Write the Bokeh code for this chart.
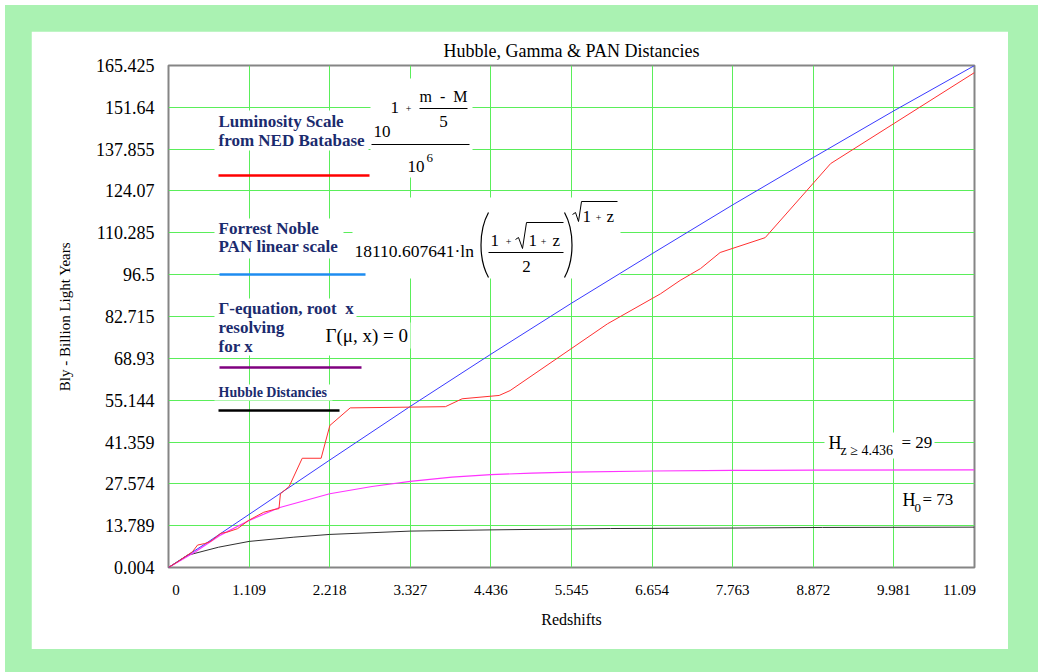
from bokeh.plotting import figure
from bokeh.models import Range1d, FixedTicker, Label, BoxAnnotation
from bokeh.layouts import column
from bokeh.embed import file_html
from bokeh.resources import INLINE

# ---- axis ticks -------------------------------------------------------------
x_ticks = [0, 1.109, 2.218, 3.327, 4.436, 5.545, 6.654, 7.763, 8.872, 9.981, 11.09]
x_tick_labels = ["0", "1.109", "2.218", "3.327", "4.436", "5.545", "6.654",
                 "7.763", "8.872", "9.981", "11.09"]
y_ticks = [0.004, 13.789, 27.574, 41.359, 55.144, 68.93, 82.715, 96.5,
           110.285, 124.07, 137.855, 151.64, 165.425]
y_tick_labels = ["0.004", "13.789", "27.574", "41.359", "55.144", "68.93", "82.715",
                 "96.5", "110.285", "124.07", "137.855", "151.64", "165.425"]

# ---- PAN linear scale (Forrest Noble), Bly vs redshift ----------------------
pan_z = [0, 0.5, 1.109, 2.218, 3.327, 4.436, 5.545, 6.654, 7.763, 8.872, 9.981, 11.09]
pan_d = [0, 7.7, 17.5, 35.4, 53.1, 70.3, 87.1, 103.4, 119.5, 135.1, 150.5, 165.4]

# ---- luminosity distances from the NED database ------------------------------
lum_z = [0, 0.12, 0.25, 0.33, 0.40, 0.50, 0.58, 0.72, 0.80, 0.95, 1.10, 1.31,
         1.45, 1.52, 1.54, 1.66, 1.84, 2.10, 2.22, 2.50, 3.81, 4.04, 4.55, 4.70,
         6.04, 6.77, 7.04, 7.32, 7.59, 8.21, 9.11, 11.09]
lum_d = [0, 1.8, 3.9, 5.2, 7.4, 7.9, 8.6, 11.3, 11.6, 12.8, 15.5, 18.2,
         19.1, 19.4, 24.3, 26.7, 36.0, 36.0, 46.8, 52.6, 53.0, 55.6, 56.7, 58.3,
         80.3, 90.2, 94.6, 98.5, 103.8, 108.7, 133.1, 163.1]

# ---- Gamma-equation root ------------------------------------------------------
gamma_z = [0, 0.37, 0.70, 1.109, 1.52, 2.218, 2.80, 3.327, 3.90, 4.436, 5.00,
           5.545, 6.654, 7.763, 8.872, 11.09]
gamma_d = [0, 5.2, 10.5, 15.5, 19.7, 24.3, 26.7, 28.4, 29.8, 30.6, 31.1,
           31.4, 31.8, 32.0, 32.1, 32.2]

# ---- Hubble distances ---------------------------------------------------------
hubble_z = [0, 0.257, 0.69, 1.109, 1.725, 2.218, 3.327, 4.436, 6.08, 7.763, 9.0, 11.09]
hubble_d = [0, 4.0, 6.7, 8.6, 10.0, 10.9, 12.0, 12.4, 12.85, 13.0, 13.2, 13.3]

X0, X1 = 0, 11.09
Y0, Y1 = 0.004, 165.425

# frame geometry in page pixels (used to place the annotation block)
FL, FR, FT, FB = 168, 974, 65, 567


def sx(xp):
    return X0 + (xp - FL) / (FR - FL) * (X1 - X0)


def sy(yp):
    return Y0 + (FB - yp) / (FB - FT) * (Y1 - Y0)


SERIF = "Liberation Serif"
NAVY = "#1b2b6e"
EN = "\u2002"
NB = "\u00a0"

p = figure(width=977, height=618,
           x_range=Range1d(X0, X1), y_range=Range1d(Y0, Y1),
           output_backend="svg", toolbar_location=None,
           min_border_left=137, min_border_right=34,
           min_border_top=34, min_border_bottom=82,
           title="Hubble, Gamma & PAN Distancies")
p.margin = (26, 30, 23, 26)
p.background_fill_color = "white"
p.border_fill_color = "white"
p.outline_line_color = "#858585"
p.outline_line_width = 2

p.title.align = "center"
p.title.text_font = SERIF
p.title.text_font_size = "18px"
p.title.text_font_style = "normal"
p.title.text_color = "black"
p.title.standoff = 10

# first label sits right of the origin, last one ends at the frame edge
x_label_map = {t: s for t, s in zip(x_ticks, x_tick_labels)}
x_label_map[x_ticks[0]] = EN * 2 + x_tick_labels[0]
x_label_map[x_ticks[-1]] = x_tick_labels[-1] + EN * 4

p.xaxis.ticker = FixedTicker(ticks=x_ticks)
p.xaxis.major_label_overrides = x_label_map
p.yaxis.ticker = FixedTicker(ticks=y_ticks)
p.yaxis.major_label_overrides = {t: s for t, s in zip(y_ticks, y_tick_labels)}

for ax in (p.xaxis[0], p.yaxis[0]):
    ax.axis_line_color = None
    ax.major_tick_line_color = None
    ax.minor_tick_line_color = None
    ax.major_label_text_font = SERIF
    ax.major_label_text_color = "black"
    ax.axis_label_text_font = SERIF
    ax.axis_label_text_font_style = "normal"
    ax.axis_label_text_color = "black"

p.xaxis.major_label_text_font_size = "15px"
p.yaxis.major_label_text_font_size = "18px"
p.xaxis.major_label_standoff = 8
p.yaxis.major_label_standoff = 8
p.xaxis.axis_label = "Redshifts"
p.yaxis.axis_label = "Bly - Billion Light Years"
p.xaxis.axis_label_text_font_size = "16px"
p.yaxis.axis_label_text_font_size = "15px"
p.xaxis.axis_label_standoff = 10
p.yaxis.axis_label_standoff = 20

p.grid.grid_line_color = "#5aee5a"
p.grid.grid_line_width = 1
p.xgrid.ticker = FixedTicker(ticks=x_ticks)
p.ygrid.ticker = FixedTicker(ticks=y_ticks)

# white panels behind the annotation text (they hide the grid there)
panels = [(214, 110, 368, 150), (370, 78, 472, 177), (214, 218, 343, 258),
          (352, 197, 620, 278), (214, 298, 356, 355), (322, 322, 410, 348),
          (214, 384, 332, 400), (824, 432, 934, 458), (898, 489, 956, 515)]
for l, t, r, b in panels:
    p.add_layout(BoxAnnotation(left=sx(l), right=sx(r), top=sy(t), bottom=sy(b),
                               fill_color="white", fill_alpha=1.0, line_color=None,
                               level="underlay"))

# data curves
p.line(hubble_z, hubble_d, line_color="#303030", line_width=1)
p.line(gamma_z, gamma_d, line_color="#ff33ff", line_width=1.2)
p.line(pan_z, pan_d, line_color="#3a3aff", line_width=1)
p.line(lum_z, lum_d, line_color="#ff3030", line_width=1)


def note(xp, yp, text, size, bold=False, color="black", align="left"):
    p.add_layout(Label(x=sx(xp), y=sy(yp), text=text, text_font=SERIF,
                       text_font_size=f"{size}px",
                       text_font_style="bold" if bold else "normal",
                       text_color=color, text_align=align, text_baseline="middle"))


def stroke(xs, ys, width=1.0, color="black"):
    p.line([sx(v) for v in xs], [sy(v) for v in ys], line_color=color, line_width=width)


# ---- legend block ------------------------------------------------------------
note(218, 121, "Luminosity Scale", 17, True, NAVY)
note(218, 140, "from NED Batabase", 17, True, NAVY)
stroke([218, 369], [175, 175], 2.5, "#ff0000")

note(218, 228, "Forrest Noble", 17, True, NAVY)
note(218, 246, "PAN linear scale", 17, True, NAVY)
stroke([219, 365], [274, 274], 2.5, "#1e8cf0")

note(218, 308, "\u0393-equation, root" + NB * 2 + "x", 17, True, NAVY)
note(218, 327, "resolving", 17, True, NAVY)
note(218, 346, "for x", 17, True, NAVY)
stroke([219, 361], [367, 367], 2.5, "#800080")

note(218, 392, "Hubble Distancies", 14, True, NAVY)
stroke([218, 339], [410, 410], 2.5, "black")

# luminosity formula: 10^(1 + (m - M)/5) / 10^6
note(373, 131, "10", 17)
note(390, 107, "1", 17)
note(408, 108, "+", 10, align="center")
note(443, 96, "m" + NB * 2 + "-" + NB * 2 + "M", 16, align="center")
stroke([419, 467], [108, 108])
note(443, 121, "5", 17, align="center")
stroke([371, 469], [144, 144])
note(407, 166, "10", 17)
note(426, 157, "6", 13)

# PAN formula: 18110.607641 * ln((1 + sqrt(1 + z)) / 2) ^ sqrt(1 + z)
note(354, 250, "18110.607641\u00b7ln", 17.5)
p.bezier(x0=[sx(488)], y0=[sy(212)], x1=[sx(488)], y1=[sy(277)],
         cx0=[sx(478)], cy0=[sy(230)], cx1=[sx(478)], cy1=[sy(259)],
         line_color="black", line_width=1.2)
p.bezier(x0=[sx(564)], y0=[sy(212)], x1=[sx(564)], y1=[sy(277)],
         cx0=[sx(574)], cy0=[sy(230)], cx1=[sx(574)], cy1=[sy(259)],
         line_color="black", line_width=1.2)
note(490, 240, "1", 17)
note(508, 241, "+", 10, align="center")
stroke([515, 518, 522, 526, 563], [239, 237, 248, 222, 222])
note(528, 240, "1", 17)
note(543, 241, "+", 10, align="center")
note(552, 240, "z", 17)
stroke([488, 563], [252, 252])
note(526, 266, "2", 17, align="center")
stroke([572, 575, 578, 581, 617], [214, 212, 221, 201, 201])
note(582, 216, "1", 17)
note(598, 217, "+", 10, align="center")
note(606, 216, "z", 17)

# Gamma formula
note(325, 335, "\u0393(\u03bc, x) = 0", 19)

# Hubble constants
note(828, 442, "H", 18)
note(840, 450, "z \u2265 4.436", 14)
note(901, 442, "= 29", 17)
note(902, 499, "H", 18)
note(914, 507, "0", 13)
note(922, 499, "= 73", 17)

page = column(p, margin=(5, 0, 0, 5), styles={"background-color": "#aaf2b2"})

with open("out.html", "w") as f:
    f.write(file_html(page, INLINE))
